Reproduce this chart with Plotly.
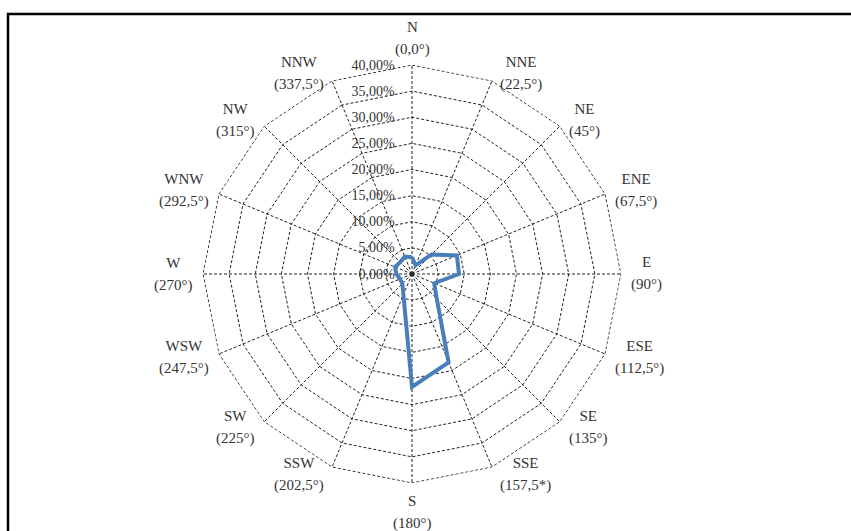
import math
import plotly.graph_objects as go

# Wind direction sectors (16-point compass) and their angle labels
directions = ["N", "NNE", "NE", "ENE", "E", "ESE", "SE", "SSE",
              "S", "SSW", "SW", "WSW", "W", "WNW", "NW", "NNW"]
angle_labels = ["(0,0°)", "(22,5°)", "(45°)", "(67,5°)", "(90°)", "(112,5°)",
                "(135°)", "(157,5*)", "(180°)", "(202,5°)", "(225°)", "(247,5°)",
                "(270°)", "(292,5°)", "(315°)", "(337,5°)"]
bearings = [i * 22.5 for i in range(16)]

# Frequency of occurrence per direction (%)
frequency = [3.2, 1.8, 5.3, 9.3, 9.0, 4.6, 6.7, 18.3,
             21.6, 4.3, 2.6, 2.5, 3.0, 3.5, 3.2, 3.6]

# Radial ticks
radial_ticks = [0, 5, 10, 15, 20, 25, 30, 35, 40]
radial_tick_text = [f"{v:.2f}%".replace(".", ",") for v in radial_ticks]
r_max = 40

W, H = 851, 531
cx, cy, R = 412, 274, 209            # centre and radius of the 40 % ring (px)
r_top = r_max * 1.002
R_dom = R * r_top / r_max

grid_color = "#222222"
grid_dash = "3px,2px"

fig = go.Figure()
# Outer 40 % ring, dashed like the inner grid
fig.add_trace(go.Scatterpolar(
    r=[r_max] * (len(directions) + 1),
    theta=directions + directions[:1],
    mode="lines",
    line=dict(color=grid_color, width=1, dash=grid_dash),
    hoverinfo="skip",
))
fig.add_trace(go.Scatterpolar(
    r=frequency + frequency[:1],
    theta=directions + directions[:1],
    mode="lines",
    line=dict(color="#4a7ebb", width=4),
    hoverinfo="skip",
))
fig.add_trace(go.Scatterpolar(
    r=[0], theta=directions[:1], mode="markers",
    marker=dict(color="black", size=6),
    hoverinfo="skip",
))

serif = "Liberation Serif"
text_color = "#333333"
grid_style = dict(gridcolor=grid_color, gridwidth=1, griddash=grid_dash)

# Compass labels placed just outside each vertex of the outer ring
annotations = []
for name, ang, b in zip(directions, angle_labels, bearings):
    t = math.radians(b)
    s, c = math.sin(t), math.cos(t)
    vx, vy = cx + R * s, cy - R * c
    text = (f"<span style='font-size:15px'>{name}</span><br>"
            f"<span style='font-size:15px'>{ang}</span>")
    if abs(s) < 1e-6:
        x, xa = vx, "center"
        if c > 0:
            y, ya = vy - 5, "bottom"
        else:
            y, ya = vy + 8, "top"
    else:
        gap = 4 + 4 * abs(s)
        x = vx + gap if s > 0 else vx - gap
        xa = "left" if s > 0 else "right"
        y, ya = vy - 8 * c, "middle"
    annotations.append(dict(
        x=x / W, y=1 - y / H, xref="paper", yref="paper",
        xanchor=xa, yanchor=ya, text=text, showarrow=False, align="center",
        font=dict(family=serif, size=17, color=text_color),
    ))

fig.update_layout(
    width=W, height=H,
    margin=dict(l=0, r=0, t=0, b=0),
    paper_bgcolor="white",
    showlegend=False,
    annotations=annotations,
    polar=dict(
        domain=dict(x=[(cx - R_dom) / W, (cx + R_dom) / W],
                    y=[(H - cy - R_dom) / H, (H - cy + R_dom) / H]),
        bgcolor="white",
        gridshape="linear",
        radialaxis=dict(
            range=[0, r_top],
            angle=90,
            tickangle=90,
            side="counterclockwise",
            tickvals=radial_ticks,
            ticktext=radial_tick_text,
            tickfont=dict(family=serif, size=14, color=text_color),
            showline=False,
            ticks="outside",
            ticklen=12,
            tickcolor="rgba(0,0,0,0)",
            **grid_style,
        ),
        angularaxis=dict(
            type="category",
            categoryorder="array",
            categoryarray=directions,
            rotation=90,
            direction="clockwise",
            showticklabels=False,
            showline=False,
            ticks="",
            **grid_style,
        ),
    ),
    shapes=[dict(
        type="rect", xref="paper", yref="paper",
        x0=8 / W, x1=1.02, y0=-0.02, y1=1 - 14 / H,
        line=dict(color="black", width=2.5),
    )],
)

fig.write_html("out.html")
